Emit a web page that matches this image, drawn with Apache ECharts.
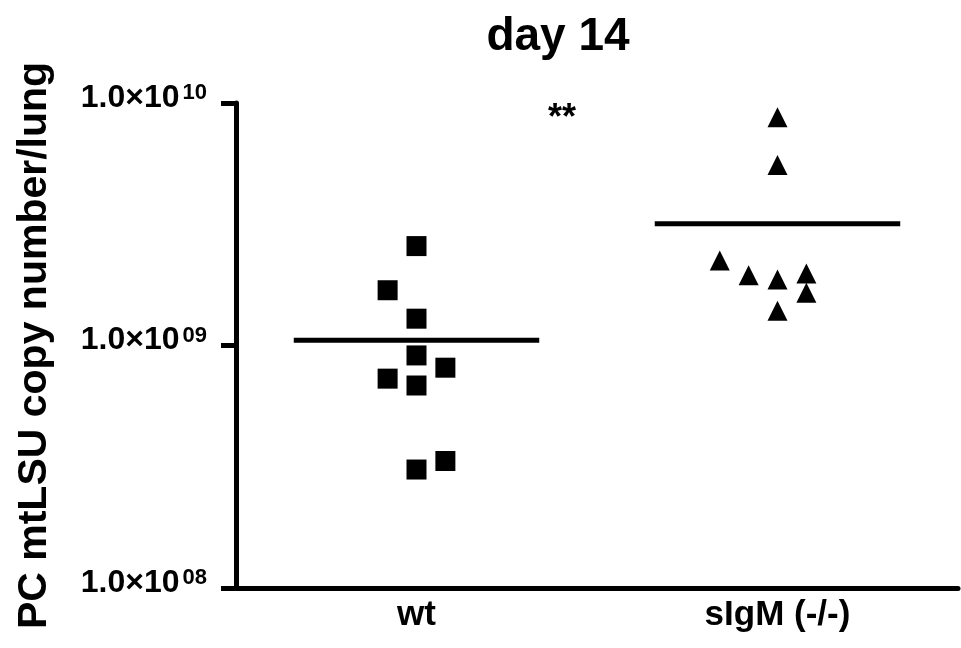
<!DOCTYPE html>
<html>
<head>
<meta charset="utf-8">
<script src="https://cdn.jsdelivr.net/npm/echarts@6/dist/echarts.min.js"></script>
<style>
  html, body { margin: 0; padding: 0; background: #fff; }
  #chart { width: 961px; height: 648px; }
</style>
</head>
<body>
<div id="chart"></div>
<script>
// groups, left to right
const categories = ['wt', 'sIgM (-/-)'];
const categoryPos = [1, 3];            // x positions on the hidden value axis

// PC mtLSU copy number per lung
const wtValues   = [2.57e9, 1.69e9, 1.29e9, 9.1e8, 8.1e8, 7.3e8, 6.84e8, 3.34e8, 3.08e8];
const wtJitter   = [0, -1, 0, 0, 1, -1, 0, 1, 0];
const sigmValues = [8.74e9, 5.55e9, 2.24e9, 1.95e9, 1.87e9, 1.98e9, 1.65e9, 1.39e9];
const sigmJitter = [0, 0, -2, -1, 0, 1, 1, 0];

// horizontal group lines
const groupMeans = [1.05e9, 3.18e9];

// y ticks: 1.0×10^08 .. 1.0×10^10
const yTickExponents = ['08', '09', '10'];

const FONT = '"Liberation Sans", Arial, sans-serif';
const JIT = 0.16;       // one jitter column in axis units
const HALF = 0.68;      // half width of the group line

function points(pos, vals, jit) {
    return vals.map((v, i) => [pos + jit[i] * JIT, v]);
}

const chart = echarts.init(document.getElementById('chart'), null, { renderer: 'canvas' });

chart.setOption({
    animation: false,
    backgroundColor: '#fff',
    title: {
        text: 'day 14',
        left: 553, top: 9, textAlign: 'center',
        textStyle: { fontFamily: FONT, fontSize: 46, fontWeight: 'bold', color: '#000' }
    },
    grid: { left: 236, right: -2, top: 103, bottom: 60, containLabel: false },
    xAxis: {
        type: 'value', min: 0, max: 4, interval: 1,
        axisLine: { lineStyle: { color: '#000', width: 5 } },
        axisTick: { show: false },
        splitLine: { show: false },
        axisLabel: {
            margin: 10,
            fontFamily: FONT, fontSize: 35, fontWeight: 'bold', color: '#000',
            showMinLabel: true, showMaxLabel: true,
            formatter: (v) => {
                const i = categoryPos.indexOf(v);
                return i >= 0 ? categories[i] : '';
            }
        }
    },
    yAxis: {
        type: 'log', logBase: 10, min: 1e8, max: 1e10,
        name: 'PC mtLSU copy number/lung',
        nameLocation: 'middle', nameRotate: 90, nameGap: 181,
        nameTextStyle: { fontFamily: FONT, fontSize: 41, fontWeight: 'bold', color: '#000' },
        axisLine: { show: true, lineStyle: { color: '#000', width: 5 } },
        axisTick: { show: true, length: 15, lineStyle: { color: '#000', width: 5 } },
        splitLine: { show: false },
        axisLabel: {
            margin: 29,
            verticalAlign: 'middle',
            formatter: (v) => {
                const e = Math.round(Math.log10(v));
                const s = yTickExponents[e - 8];
                return '{b|1.0×10}{s|' + s + '}';
            },
            rich: {
                b: { fontFamily: FONT, fontSize: 32, fontWeight: 'bold', color: '#000', lineHeight: 22, verticalAlign: 'bottom' },
                s: { fontFamily: FONT, fontSize: 22, fontWeight: 'bold', color: '#000', verticalAlign: 'bottom', lineHeight: 14, padding: [0, 0, 10, 3] }
            }
        }
    },
    graphic: [{
        type: 'text', left: 548, top: 101,
        style: { text: '**', font: 'bold 36px ' + FONT, fill: '#000' }
    }],
    series: [
        {
            name: 'wt', type: 'scatter', symbol: 'rect', symbolSize: 20,
            itemStyle: { color: '#000', opacity: 1 },
            data: points(categoryPos[0], wtValues, wtJitter)
        },
        {
            name: 'sIgM (-/-)', type: 'scatter', symbol: 'triangle', symbolSize: 20,
            itemStyle: { color: '#000', opacity: 1 },
            data: points(categoryPos[1], sigmValues, sigmJitter)
        },
        ...groupMeans.map((m, i) => ({
            name: 'mean ' + categories[i], type: 'line', symbol: 'none',
            lineStyle: { color: '#000', width: 5 },
            data: [[categoryPos[i] - HALF, m], [categoryPos[i] + HALF, m]]
        }))
    ]
});
</script>
</body>
</html>
